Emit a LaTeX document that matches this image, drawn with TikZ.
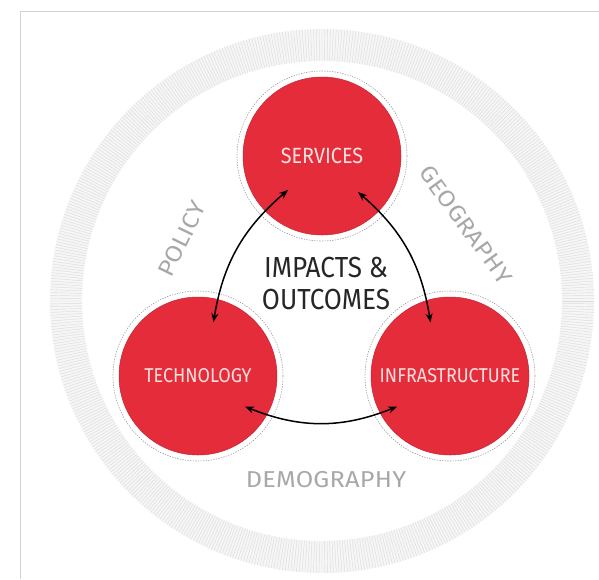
\documentclass[tikz,border=0pt]{standalone}
\usepackage{fontspec}
\setmainfont{Fira Sans}[FakeStretch=0.9]
\newfontfamily\ctxfont{Fira Sans}[FakeStretch=1.1, LetterSpace=1]
\usetikzlibrary{arrows.meta}
\definecolor{hubred}{HTML}{E42C3A}
\definecolor{hubtext}{HTML}{FBE0E0}
\definecolor{ctxgray}{HTML}{A8A8A8}
\definecolor{ringgray}{HTML}{DCDCDC}
\definecolor{ringfill}{HTML}{F6F6F6}
\begin{document}
\begin{tikzpicture}[x=1pt, y=1pt,
    hub/.style={circle, fill=hubred, draw=hubred!85!black, line width=0.5pt, minimum size=158pt, inner sep=0pt, text=hubtext, font=\fontsize{20}{20}\selectfont},
    halo/.style={draw=gray!80, dash pattern=on 1.3pt off 1.3pt, line width=0.6pt},
    context/.style={text=ctxgray, font=\ctxfont\fontsize{23}{23}\selectfont},
    link/.style={{Stealth[length=9pt,width=7pt]}-{Stealth[length=9pt,width=7pt]}, line width=1.5pt}]
    \useasboundingbox (0,0) rectangle (599,-579);
    \draw[ringgray!90!gray, line width=1pt] (20,-579) -- (20,-11) -- (599,-11);
    \begin{scope}[shift={(322,-301)}]
        \fill[ringfill, even odd rule] (0,0) circle (272) (0,0) circle (240);
        \foreach \a in {0,0.6,...,359.5}
            \draw[ringgray, line width=0.45pt] (\a:240) -- (\a:272);
    \end{scope}
    \node[hub, font=\fontsize{22}{22}\selectfont] (ser) at (322,-156) {SERVICES};
    \node[hub] (tech) at (198,-376) {TECHNOLOGY};
    \node[hub] (infra) at (450,-376) {INFRASTRUCTURE};
    \foreach \n in {ser,tech,infra}
        \draw[halo] (\n) circle (85);
    \node[align=center, text=black!85, font=\fontsize{29}{32}\selectfont] (imp) at (326,-284) {IMPACTS \&\\OUTCOMES};
    \node[context, rotate=64] (pol) at (182,-239) {POLICY};
    \node[context, rotate=-54] (geo) at (466,-225) {GEOGRAPHY};
    \node[context] (dem) at (326,-480) {DEMOGRAPHY};
    \draw[link] ([shift={(225:48)}]ser.center) to[bend right=20] ([shift={(74:56)}]tech.center);
    \draw[link] ([shift={(315:51)}]ser.center) to[bend left=20] ([shift={(110:57)}]infra.center);
    \draw[link] ([shift={(-33:56)}]tech.center) to[bend right=22] ([shift={(210:61)}]infra.center);
\end{tikzpicture}
\end{document}
